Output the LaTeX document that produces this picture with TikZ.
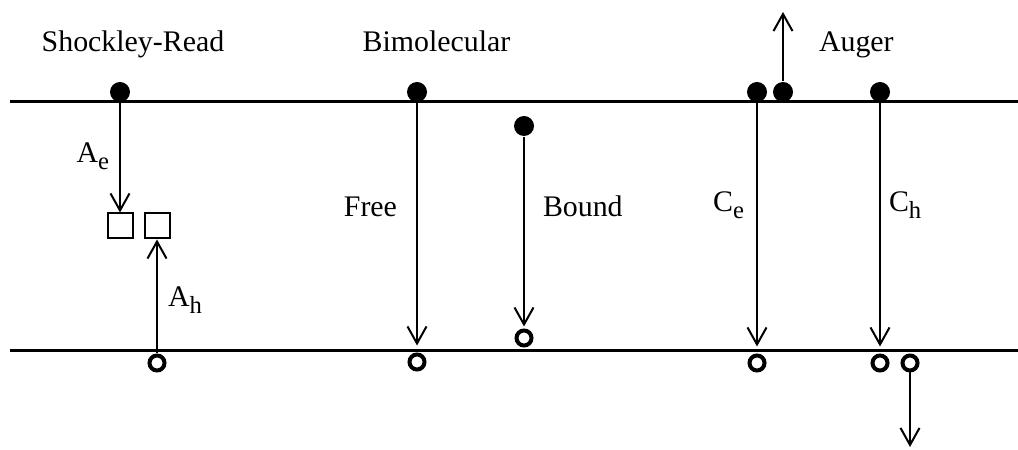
\documentclass[tikz,border=0pt]{standalone}
\usepackage{fontspec}
\setmainfont{Liberation Serif}
\usetikzlibrary{arrows.meta,positioning}
\newcommand{\lowsub}[1]{\raisebox{-.14cm}{\fontsize{14}{16}\selectfont #1}}

\begin{document}
\begin{tikzpicture}[x=1cm,y=1cm,>={Straight Barb[length=3.4mm,width=3.8mm]},
  elec/.style={circle,fill=black,inner sep=0pt,minimum size=.4cm},
  hole/.style={circle,draw,line width=.08cm,inner sep=0pt,minimum size=.3cm},
  trap/.style={draw,rectangle,line width=.04cm,inner sep=0pt,minimum size=.5cm},
  lbl/.style={font=\fontsize{17}{20}\selectfont,inner sep=0pt},
  band/.style={line width=.06cm},
  every path/.style={line width=.04cm}]
\useasboundingbox (0,0) rectangle (20.36,8.98);
% bands
\coordinate (cbl) at (.2,6.94);
\coordinate (cbr) at (20.36,6.94);
\coordinate (vbl) at (.2,1.96);
\coordinate (vbr) at (20.36,1.96);
\draw[band] (cbl)--(cbr);
\draw[band] (vbl)--(vbr);
% Shockley-Read
\node[lbl,anchor=base] (tsr) at (2.66,7.94) {Shockley-Read};
\node[elec] (e1) at (2.4,7.14) {};
\node[trap] (t1) at (2.4,4.46) {};
\node[trap] (t2) at (3.14,4.46) {};
\node[hole] (h1) at (3.14,1.72) {};
\draw[->] (e1)--(t1);
\draw[->] (h1)--(t2);
\node[lbl,anchor=base east] (ae) at (2.2,5.72) {A\lowsub{e}};
\node[lbl,anchor=base west] (ah) at (3.34,2.84) {A\lowsub{h}};
% Bimolecular
\node[lbl,anchor=base] (tbi) at (8.73,7.94) {Bimolecular};
\node[elec] (e2) at (8.34,7.14) {};
\node[hole] (h2) at (8.34,1.74) {};
\draw[->,shorten >=.14cm] (e2)--(h2);
\node[lbl,anchor=base east] (free) at (7.96,4.64) {Free};
\node[elec] (e3) at (10.48,6.46) {};
\node[hole] (h3) at (10.48,2.22) {};
\draw[->,shorten >=.04cm] (e3)--(h3);
\node[lbl,anchor=base west] (bound) at (10.84,4.64) {Bound};
% Auger
\node[lbl,anchor=base west] (tau) at (16.36,7.94) {Auger};
\node[elec] (e4) at (15.14,7.14) {};
\node[elec] (e5) at (15.66,7.14) {};
\node[elec] (e6) at (17.6,7.14) {};
\node[hole] (h4) at (15.14,1.72) {};
\node[hole] (h5) at (17.6,1.72) {};
\node[hole] (h6) at (18.2,1.72) {};
\coordinate (up) at (15.66,8.74);
\coordinate (down) at (18.2,.04);
\draw[->] (e5)--(up);
\draw[->] (h6)--(down);
\draw[->,shorten >=.14cm] (e4)--(h4);
\draw[->,shorten >=.14cm] (e6)--(h5);
\node[lbl,anchor=base east] (ce) at (14.9,4.74) {C\lowsub{e}};
\node[lbl,anchor=base west] (ch) at (17.76,4.74) {C\lowsub{h}};
\end{tikzpicture}
\end{document}
